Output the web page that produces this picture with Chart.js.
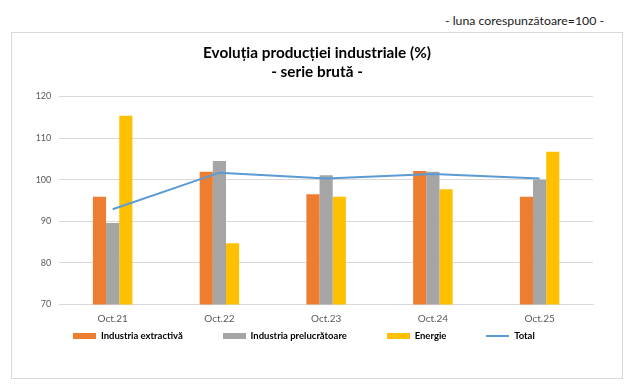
<!DOCTYPE html>
<html>
<head>
<meta charset="utf-8">
<script src="https://cdn.jsdelivr.net/npm/chart.js@4"></script>
<style>
  html, body { margin: 0; padding: 0; background: #fff; }
  body { width: 639px; height: 385px; position: relative; overflow: hidden; font-family: Lato, sans-serif; }
  #note { position: absolute; right: 35px; top: 13px; font-size: 12.3px; line-height: 15px; color: #1a1a1a; }
  #box { position: absolute; left: 11px; top: 32px; width: 610px; height: 345px; border: 1px solid #d9d9d9; }
  #box canvas { display: block; }
</style>
</head>
<body>
<div id="note">- luna corespunzătoare=100 -</div>
<div id="box"><canvas id="chartCanvas" width="610" height="345"></canvas></div>
<script>
const categories = ['Oct.21', 'Oct.22', 'Oct.23', 'Oct.24', 'Oct.25'];
const extractiva = [95.9, 101.9, 96.5, 102.1, 95.9];
const prelucratoare = [89.6, 104.5, 101.1, 101.9, 100.0];
const energie = [115.4, 84.7, 95.9, 97.7, 106.7];
const total = [92.9, 101.7, 100.3, 101.4, 100.3];
const yTicks = [70, 80, 90, 100, 110, 120];

const orange = '#ED7D31', gray = '#A5A5A5', yellow = '#FFC000', blue = '#5B9BD5';

// small canvases used as legend swatches
function swatch(color, h) {
    const c = document.createElement('canvas');
    c.width = 23;
    c.height = h;
    const g = c.getContext('2d');
    g.fillStyle = color;
    g.fillRect(0, 0, 23, h);
    return c;
}

// legend keeps its own padding, so move it up under the axis labels;
// title is centred on the whole box, not between the layout paddings
const nudge = {
    id: 'nudge',
    afterLayout(chart) {
        chart.legend.top -= 41;
        chart.legend.bottom -= 41;
        chart.titleBlock.left += 13;
        chart.titleBlock.right += 13;
    }
};

Chart.defaults.font.family = 'Lato, sans-serif';

const ctx = document.getElementById('chartCanvas').getContext('2d');
new Chart(ctx, {
    type: 'bar',
    data: {
        labels: categories,
        datasets: [
            { label: 'Industria extractivă', data: extractiva, backgroundColor: orange, pointStyle: swatch(orange, 6), order: 1 },
            { label: 'Industria prelucrătoare', data: prelucratoare, backgroundColor: gray, pointStyle: swatch(gray, 6), order: 1 },
            { label: 'Energie', data: energie, backgroundColor: yellow, pointStyle: swatch(yellow, 6), order: 1 },
            { type: 'line', label: 'Total', data: total, borderColor: blue, backgroundColor: blue, borderWidth: 2,
              pointRadius: 0, tension: 0, pointStyle: swatch(blue, 2), order: 0 }
        ]
    },
    options: {
        responsive: false,
        animation: false,
        categoryPercentage: 0.37,
        barPercentage: 1,
        layout: { padding: { left: 3, right: 29, top: 0, bottom: -14 } },
        plugins: {
            title: {
                display: true,
                text: ['Evoluția producției industriale (%)', '- serie brută -'],
                color: '#000',
                font: { size: 15.3, weight: 'bold', lineHeight: 1.26 },
                padding: { top: 10, bottom: 15 }
            },
            legend: {
                position: 'bottom',
                labels: {
                    usePointStyle: true,
                    pointStyleWidth: 23,
                    padding: 40,
                    color: '#000',
                    font: { size: 9.5, weight: 'bold' },
                    sort: (a, b) => a.datasetIndex - b.datasetIndex
                }
            },
            tooltip: { enabled: false }
        },
        scales: {
            x: {
                grid: { display: false, drawTicks: false },
                border: { color: '#d9d9d9' },
                ticks: { color: '#595959', font: { size: 10 }, padding: 8 }
            },
            y: {
                min: yTicks[0],
                max: yTicks[yTicks.length - 1],
                grid: { color: '#d9d9d9', drawTicks: false },
                border: { display: false },
                afterBuildTicks(scale) { scale.ticks = yTicks.map(v => ({ value: v })); },
                ticks: { color: '#595959', font: { size: 9 }, padding: 8 },
                afterFit(scale) { scale.width = 44.3; }
            }
        }
    },
    plugins: [nudge]
});
</script>
</body>
</html>
